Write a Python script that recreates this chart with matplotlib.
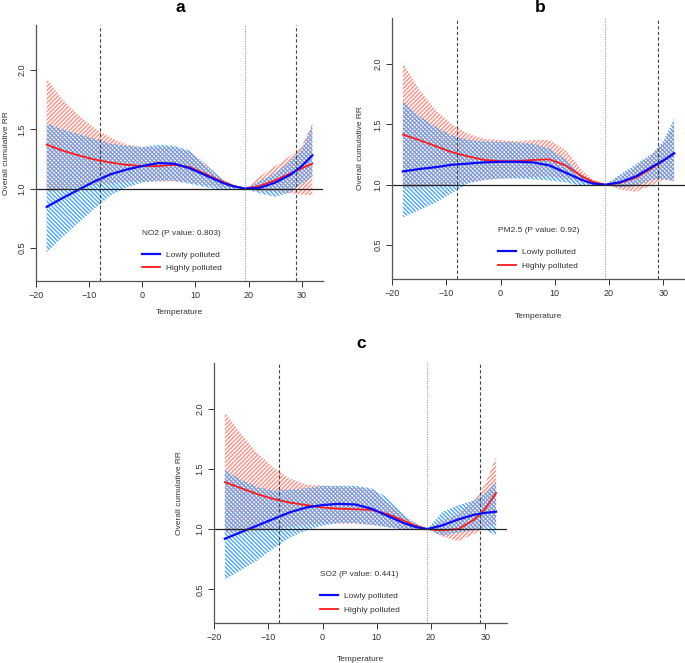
import matplotlib
matplotlib.use("Agg")
import matplotlib.pyplot as plt

plt.rcParams["font.family"] = ["Liberation Sans", "DejaVu Sans"]
plt.rcParams["hatch.linewidth"] = 1.0

temp = [-18, -15, -12, -9, -6, -3, 0, 3, 6, 9, 12, 15, 17, 19.3, 22, 25, 28, 30, 32]
cut_lines = [-8, 29]
mmt = 19.3

panels = ["a", "b", "c"]
labels = ["NO2 (P value: 0.803)", "PM2.5 (P value: 0.92)", "SO2 (P value: 0.441)"]

# NO2
no2_low = [0.845, 0.92, 0.99, 1.06, 1.12, 1.16, 1.19, 1.215, 1.21, 1.17, 1.11, 1.05, 1.02, 1.0, 1.005, 1.05, 1.12, 1.19, 1.28]
no2_low_hi = [1.55, 1.5, 1.46, 1.42, 1.38, 1.36, 1.35, 1.37, 1.36, 1.32, 1.2, 1.08, 1.03, 1.0, 1.06, 1.13, 1.24, 1.33, 1.54]
no2_low_lo = [0.46, 0.59, 0.71, 0.83, 0.94, 1.01, 1.05, 1.065, 1.065, 1.04, 1.01, 0.99, 0.995, 1.0, 0.96, 0.93, 0.97, 1.04, 1.1]
no2_high = [1.37, 1.32, 1.28, 1.245, 1.22, 1.2, 1.19, 1.19, 1.2, 1.18, 1.12, 1.06, 1.025, 1.0, 1.02, 1.07, 1.13, 1.17, 1.21]
no2_high_hi = [1.93, 1.75, 1.62, 1.51, 1.43, 1.37, 1.35, 1.35, 1.35, 1.31, 1.2, 1.08, 1.035, 1.0, 1.1, 1.19, 1.28, 1.36, 1.55]
no2_high_lo = [0.97, 0.99, 1.01, 1.03, 1.045, 1.055, 1.06, 1.06, 1.06, 1.05, 1.03, 1.01, 1.005, 1.0, 0.98, 0.97, 0.96, 0.95, 0.94]

# PM2.5
pm_low = [1.11, 1.13, 1.145, 1.165, 1.175, 1.185, 1.19, 1.19, 1.185, 1.16, 1.1, 1.04, 1.01, 1.0, 1.02, 1.07, 1.15, 1.2, 1.26]
pm_low_hi = [1.69, 1.57, 1.48, 1.41, 1.37, 1.36, 1.355, 1.35, 1.34, 1.3, 1.21, 1.07, 1.025, 1.0, 1.085, 1.17, 1.26, 1.36, 1.55]
pm_low_lo = [0.73, 0.79, 0.85, 0.93, 1.01, 1.04, 1.05, 1.05, 1.045, 1.035, 1.02, 0.99, 0.99, 1.0, 0.975, 0.99, 1.04, 1.05, 1.03]
pm_high = [1.415, 1.37, 1.32, 1.27, 1.235, 1.205, 1.195, 1.195, 1.205, 1.21, 1.16, 1.07, 1.025, 1.0, 1.015, 1.06, 1.14, 1.2, 1.26]
pm_high_hi = [2.01, 1.79, 1.62, 1.5, 1.42, 1.38, 1.37, 1.36, 1.37, 1.37, 1.29, 1.12, 1.045, 1.0, 1.07, 1.15, 1.26, 1.34, 1.5]
pm_high_lo = [0.97, 0.98, 0.99, 1.0, 1.02, 1.04, 1.05, 1.06, 1.065, 1.07, 1.05, 1.02, 1.0, 1.0, 0.96, 0.94, 1.0, 1.04, 1.03]

# SO2
so2_low = [0.92, 0.975, 1.03, 1.085, 1.14, 1.18, 1.2, 1.21, 1.205, 1.17, 1.11, 1.05, 1.02, 1.0, 1.03, 1.08, 1.12, 1.135, 1.145]
so2_low_hi = [1.49, 1.41, 1.35, 1.32, 1.33, 1.34, 1.36, 1.36, 1.36, 1.34, 1.26, 1.12, 1.05, 1.0, 1.14, 1.2, 1.24, 1.3, 1.4]
so2_low_lo = [0.58, 0.66, 0.74, 0.84, 0.93, 0.99, 1.03, 1.05, 1.05, 1.035, 1.015, 0.995, 0.995, 1.0, 0.945, 0.97, 0.99, 1.0, 0.94]
so2_high = [1.39, 1.34, 1.29, 1.25, 1.22, 1.2, 1.18, 1.17, 1.165, 1.16, 1.125, 1.07, 1.03, 1.0, 0.99, 1.0, 1.08, 1.17, 1.3]
so2_high_hi = [1.97, 1.79, 1.63, 1.51, 1.42, 1.37, 1.36, 1.355, 1.35, 1.33, 1.22, 1.11, 1.055, 1.0, 1.07, 1.125, 1.24, 1.375, 1.6]
so2_high_lo = [0.97, 0.98, 0.99, 1.0, 1.02, 1.035, 1.045, 1.045, 1.045, 1.035, 1.02, 1.0, 1.0, 1.0, 0.94, 0.9, 0.96, 1.02, 1.04]

series = [
    (no2_low, no2_low_lo, no2_low_hi, no2_high, no2_high_lo, no2_high_hi),
    (pm_low, pm_low_lo, pm_low_hi, pm_high, pm_high_lo, pm_high_hi),
    (so2_low, so2_low_lo, so2_low_hi, so2_high, so2_high_lo, so2_high_hi),
]

# axes boxes in figure fractions (left, bottom, width, height)
boxes = [
    (0.0526, 0.5762, 0.4189, 0.3861),
    (0.5723, 0.5792, 0.4277, 0.3937),
    (0.3124, 0.0603, 0.4277, 0.3922),
]
title_xy = [(180, 8), (540, 7), (361, 343)]
leg_x = [-0.1, -0.5, -0.5]
ylab_pad = [5, 7, 9]
xlab_pad = [7, 11, 10]

fig = plt.figure(figsize=(6.85, 6.63), dpi=100)

for i in range(3):
    low, low_lo, low_hi, high, high_lo, high_hi = series[i]
    ax = fig.add_axes(boxes[i])

    ax.fill_between(temp, high_lo, high_hi, facecolor="none", edgecolor="#ff8f85",
                    hatch="////////", linewidth=0)
    ax.plot(temp, high, color="#ff1a1a", lw=1.3, label="Highly polluted")
    ax.fill_between(temp, low_lo, low_hi, facecolor="none", edgecolor="#4aa6ff",
                    hatch="\\\\\\\\\\\\\\\\", linewidth=0)
    ax.plot(temp, low, color="#0a0aff", lw=1.6, label="Lowly polluted")

    ax.axhline(1.0, color="#222222", lw=0.9)
    for c in cut_lines:
        ax.axvline(c, color="#444444", lw=0.8, ls=(0, (3, 2)))
    ax.axvline(mmt, color="#999999", lw=0.8, ls=(0, (1, 1.2)))

    ax.set_xlim(-20, 34)
    ax.set_ylim(0.22, 2.38)
    ax.set_xticks([-20, -10, 0, 10, 20, 30])
    ax.set_yticks([0.5, 1.0, 1.5, 2.0])
    ax.set_yticklabels(["0.5", "1.0", "1.5", "2.0"], rotation=90, va="center")
    ax.tick_params(labelsize=6.5, length=4, width=0.7, colors="#333333", pad=3)

    for s in ["top", "right"]:
        ax.spines[s].set_visible(False)
    for s in ["left", "bottom"]:
        ax.spines[s].set_color("#555555")
        ax.spines[s].set_linewidth(0.9)

    ax.set_xlabel("Temperature", fontsize=6, color="#333333", labelpad=xlab_pad[i])
    ax.set_ylabel("Overall cumulative RR", fontsize=6, color="#333333", labelpad=ylab_pad[i])
    tx, ty = title_xy[i]
    fig.text(tx / 685, 1 - ty / 663, panels[i], fontsize=12.5, fontweight="bold",
             ha="center", va="center")

    lx = leg_x[i]
    ax.text(lx, 0.62, labels[i], fontsize=6, color="#333333", ha="left", va="center")
    h, l = ax.get_legend_handles_labels()
    ax.legend(h[::-1], l[::-1], loc="upper left", bbox_to_anchor=(lx, 0.475),
              bbox_transform=ax.transData, frameon=False, fontsize=6,
              handlelength=2.2, handletextpad=0.7, labelspacing=0.7,
              borderpad=0, borderaxespad=0, labelcolor="#333333")

fig.savefig("out.png", dpi=100)
